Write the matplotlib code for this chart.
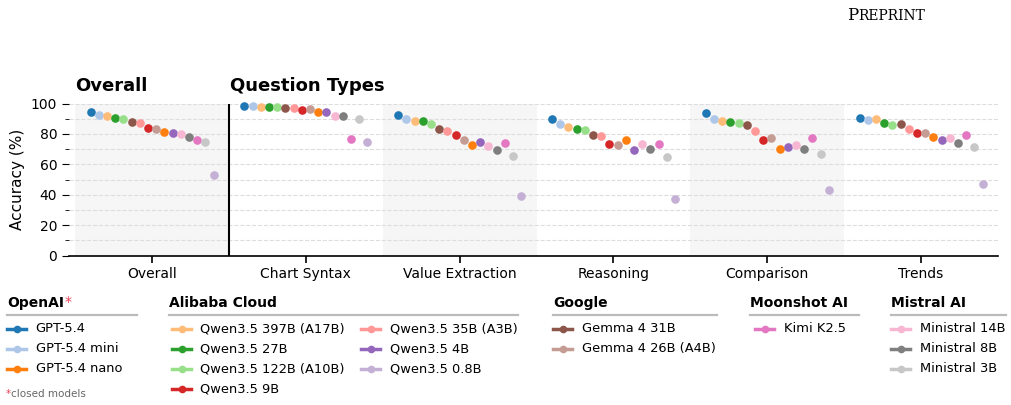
import numpy as np
import matplotlib
matplotlib.use("Agg")
import matplotlib.pyplot as plt
from matplotlib.lines import Line2D

W, H = 1011, 405

# models, sorted by overall accuracy (same order in every group)
models = ["GPT-5.4", "GPT-5.4 mini", "Qwen3.5 397B (A17B)", "Qwen3.5 27B",
          "Qwen3.5 122B (A10B)", "Gemma 4 31B", "Qwen3.5 35B (A3B)", "Qwen3.5 9B",
          "Gemma 4 26B (A4B)", "GPT-5.4 nano", "Qwen3.5 4B", "Ministral 14B",
          "Ministral 8B", "Kimi K2.5", "Ministral 3B", "Qwen3.5 0.8B"]

colors = {
    "GPT-5.4": "#1f77b4", "GPT-5.4 mini": "#aec7e8", "GPT-5.4 nano": "#ff7f0e",
    "Qwen3.5 397B (A17B)": "#ffbb78", "Qwen3.5 27B": "#2ca02c",
    "Qwen3.5 122B (A10B)": "#98df8a", "Qwen3.5 9B": "#d62728",
    "Qwen3.5 35B (A3B)": "#ff9896", "Qwen3.5 4B": "#9467bd",
    "Qwen3.5 0.8B": "#c5b0d5", "Gemma 4 31B": "#8c564b",
    "Gemma 4 26B (A4B)": "#c49c94", "Kimi K2.5": "#e377c2",
    "Ministral 14B": "#f7b6d2", "Ministral 8B": "#7f7f7f", "Ministral 3B": "#c7c7c7",
}

categories = ["Overall", "Chart Syntax", "Value Extraction", "Reasoning", "Comparison", "Trends"]

overall = [94.2, 92.5, 91.6, 90.7, 89.9, 87.9, 87.0, 83.8, 83.1, 81.4, 80.9, 79.8, 78.1, 75.7, 75.0, 52.8]
chart_syntax = [98.6, 98.2, 97.9, 97.7, 97.7, 97.3, 97.3, 95.8, 96.2, 94.7, 94.7, 91.8, 91.6, 76.8, 89.9, 75.0]
value_extraction = [92.3, 90.1, 88.8, 88.3, 86.2, 83.1, 82.0, 79.0, 75.9, 72.7, 75.0, 72.0, 69.6, 74.0, 65.2, 38.9]
reasoning = [90.1, 86.8, 84.8, 83.5, 82.7, 79.0, 78.8, 73.5, 72.7, 75.9, 69.4, 73.3, 70.1, 73.1, 64.8, 36.9]
comparison = [94.0, 90.1, 88.8, 87.7, 87.0, 85.7, 82.2, 76.1, 77.0, 70.1, 71.1, 72.9, 70.3, 77.6, 66.8, 43.0]
trends = [90.7, 89.0, 89.7, 87.5, 85.7, 86.2, 83.5, 80.3, 80.3, 78.1, 75.9, 77.6, 73.7, 79.4, 71.6, 47.2]

scores = [overall, chart_syntax, value_extraction, reasoning, comparison, trends]

# legend groups: (provider, columns of models)
providers = [
    ("OpenAI", [["GPT-5.4", "GPT-5.4 mini", "GPT-5.4 nano"]]),
    ("Alibaba Cloud", [["Qwen3.5 397B (A17B)", "Qwen3.5 27B", "Qwen3.5 122B (A10B)", "Qwen3.5 9B"],
                       ["Qwen3.5 35B (A3B)", "Qwen3.5 4B", "Qwen3.5 0.8B"]]),
    ("Google", [["Gemma 4 31B", "Gemma 4 26B (A4B)"]]),
    ("Moonshot AI", [["Kimi K2.5"]]),
    ("Mistral AI", [["Ministral 14B", "Ministral 8B", "Ministral 3B"]]),
]
closed = ["OpenAI"]

fig = plt.figure(figsize=(W / 100, H / 100), dpi=100)
ax = fig.add_axes([69 / W, 1 - 255.5 / H, (998 - 69) / W, (255.5 - 103.5) / H])

n = len(models)
offs = np.linspace(-0.4, 0.4, n)
for gi, vals in enumerate(scores):
    if gi % 2 == 0:
        ax.axvspan(gi - 0.5, gi + 0.5, color="#f6f6f6", zorder=0, lw=0)
    for mi, m in enumerate(models):
        ax.plot(gi + offs[mi], vals[mi], "o", color=colors[m], ms=6.2, mew=0,
                zorder=3, clip_on=False)

ax.axvline(0.5, color="black", lw=1.5, zorder=2)

ax.set_xlim(-0.54, 5.5)
ax.set_ylim(0, 100)
ax.set_xticks(range(len(categories)))
ax.set_xticklabels(categories, fontsize=10)
ax.set_yticks(range(0, 101, 20))
ax.set_yticks(range(10, 100, 20), minor=True)
ax.tick_params(axis="y", which="major", labelsize=10, length=5)
ax.tick_params(axis="y", which="minor", length=3)
ax.tick_params(axis="x", length=5, width=1.2)
ax.grid(axis="y", which="both", ls="--", color="#dddddd", lw=0.8, zorder=1)
ax.set_axisbelow(True)
for s in ["top", "right", "left"]:
    ax.spines[s].set_visible(False)
ax.spines["bottom"].set_linewidth(1.2)
ax.set_ylabel("Accuracy (%)", fontsize=11)
ax.set_facecolor("none")

fig.text(75 / W, 1 - 86 / H, "Overall", fontsize=13, fontweight="bold", va="center", ha="left")
fig.text(230 / W, 1 - 86 / H, "Question Types", fontsize=13, fontweight="bold", va="center", ha="left")


def fx(x):
    return x / W


def fy(y):
    return 1 - y / H


renderer = fig.canvas.get_renderer()

# header (small caps look)
p = fig.text(fx(847), fy(20.5), "P", fontsize=12, family="DejaVu Serif", va="baseline")
bb = p.get_window_extent(renderer)
fig.text(fx(bb.x1 + 0.5), fy(20.5), "REPRINT", fontsize=10, family="DejaVu Serif", va="baseline")

# legend layout in pixels: title x, underline end, handle x per column
leg_pos = {
    "OpenAI": (7, 137, [7]),
    "Alibaba Cloud": (169, 518, [172, 361]),
    "Google": (553, 717, [553]),
    "Moonshot AI": (750, 859, [755]),
    "Mistral AI": (891, 1006, [891]),
}
title_y = 303
line_y = 315
rows_y = [329, 348.5, 368.5, 388.5]

for name, cols in providers:
    tx, uend, hx = leg_pos[name]
    t = fig.text(fx(tx), fy(title_y), name, fontsize=10, fontweight="bold", va="center")
    if name in closed:
        bb = t.get_window_extent(renderer)
        fig.text(fx(bb.x1 + 0.5), fy(title_y - 1), "*", fontsize=10, color="#e8435a", va="center")
    fig.add_artist(Line2D([fx(tx), fx(uend)], [fy(line_y), fy(line_y)], color="#bbbbbb", lw=1.6))
    for ci, col in enumerate(cols):
        for ri, m in enumerate(col):
            x0 = hx[ci]
            fig.add_artist(Line2D([fx(x0), fx(x0 + 19)], [fy(rows_y[ri])] * 2,
                                  color=colors[m], lw=2.5))
            fig.add_artist(Line2D([fx(x0 + 9.5)], [fy(rows_y[ri])], marker="o",
                                  color=colors[m], ms=5.5, mew=0))
            fig.text(fx(x0 + 28.5), fy(rows_y[ri]), m, fontsize=9.4, va="center")

st = fig.text(fx(6), fy(394), "*", fontsize=7.5, color="#e8435a", va="center")
bb = st.get_window_extent(renderer)
fig.text(fx(bb.x1), fy(394), "closed models", fontsize=7.5, color="#666666", va="center")

fig.savefig("out.png", dpi=100)
